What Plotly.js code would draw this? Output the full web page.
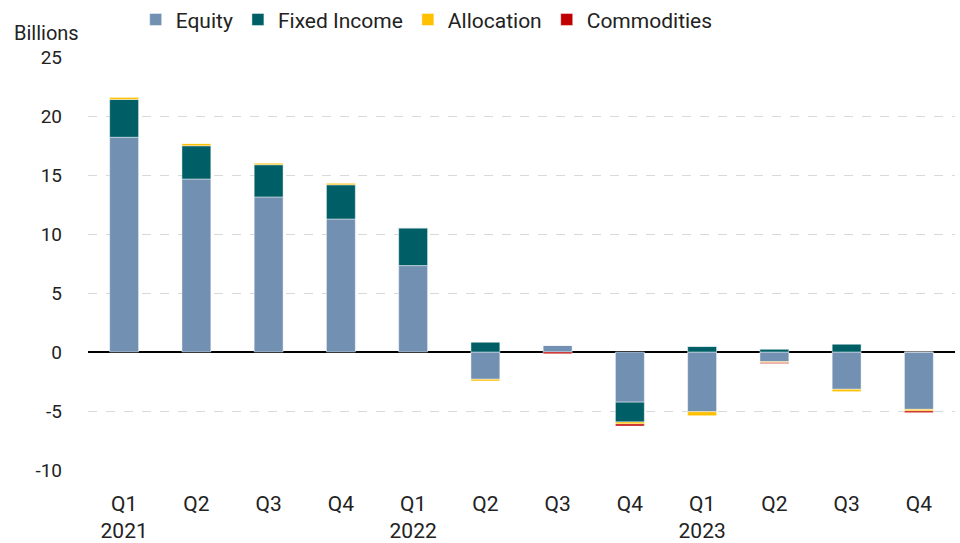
<!DOCTYPE html>
<html>
<head>
<meta charset="utf-8">
<script src="https://cdn.plot.ly/plotly-3.0.1.min.js"></script>
<style>
html,body{margin:0;padding:0;background:#fff;}
#chart{width:960px;height:543px;}
</style>
</head>
<body>
<div id="chart"></div>
<script>
const categories = ["Q1 2021","Q2 2021","Q3 2021","Q4 2021","Q1 2022","Q2 2022","Q3 2022","Q4 2022","Q1 2023","Q2 2023","Q3 2023","Q4 2023"];
const tickLabels = ["Q1<br>2021","Q2","Q3","Q4","Q1<br>2022","Q2","Q3","Q4","Q1<br>2023","Q2","Q3","Q4"];
const yTickVals = [-10, -5, 0, 5, 10, 15, 20, 25];
const yTickText = ["-10", "-5", "0", "5", "10", "15", "20", "25"];
const equity      = [18.2, 14.66, 13.14, 11.27, 7.32, -2.31, 0.57, -4.25, -5.06, -0.82, -3.16, -4.86];
const fixedIncome = [3.2, 2.82, 2.73, 2.9, 3.21, 0.85, 0.0, -1.68, 0.48, 0.23, 0.68, 0.0];
const allocation  = [0.2, 0.2, 0.15, 0.15, 0.0, -0.15, 0.0, -0.17, -0.34, -0.08, -0.2, -0.14];
const commodities = [0.0, 0.0, 0.0, 0.0, 0.0, 0.0, -0.15, -0.17, 0.0, -0.08, 0.0, -0.14];

const FONT = 'Roboto, "DejaVu Sans Condensed", sans-serif';
const edge = {color: 'rgba(255,255,255,0.45)', width: 1};

function tr(name, vals, color){
  return {type:'bar', name:name, x:categories, y:vals,
    marker:{color:color, line:edge}, hoverinfo:'name+y'};
}
const data = [
  tr('Equity', equity, '#7290b2'),
  tr('Fixed Income', fixedIncome, '#005f66'),
  tr('Allocation', allocation, '#ffc000'),
  tr('Commodities', commodities, '#c00000')
];

const layout = {
  width:960, height:543,
  margin:{l:88, r:5, t:57, b:73, autoexpand:false},
  paper_bgcolor:'#fff', plot_bgcolor:'#fff',
  font:{family:FONT, size:21, color:'#222'},
  barmode:'relative',
  bargap:0.6,
  showlegend:true,
  legend:{orientation:'h', x:0.055, xanchor:'left', y:1.09, yanchor:'middle',
          font:{family:FONT, size:21, color:'#222'}, traceorder:'normal',
          itemwidth:30, bgcolor:'rgba(0,0,0,0)'},
  xaxis:{type:'category', tickvals:categories, ticktext:tickLabels,
         showgrid:false, zeroline:false, showline:false, ticks:'',
         tickfont:{family:FONT, size:21, color:'#222'}, ticklabelstandoff:19},
  yaxis:{range:[-10,25], tickvals:yTickVals, ticktext:yTickText, showgrid:true, gridcolor:'#d9d9d9',
         griddash:'dash', gridwidth:1, zeroline:true, zerolinecolor:'#000',
         zerolinewidth:1.5, showline:false, ticks:'',
         tickfont:{family:FONT, size:19, color:'#222'}, ticklabelstandoff:25},
  annotations:[
    {text:'Billions', xref:'paper', yref:'paper', x:-0.088, y:1.058,
     xanchor:'left', yanchor:'middle', showarrow:false,
     font:{family:FONT, size:20, color:'#222'}}
  ]
};
Plotly.newPlot('chart', data, layout, {displayModeBar:false, staticPlot:true});
</script>
</body>
</html>
